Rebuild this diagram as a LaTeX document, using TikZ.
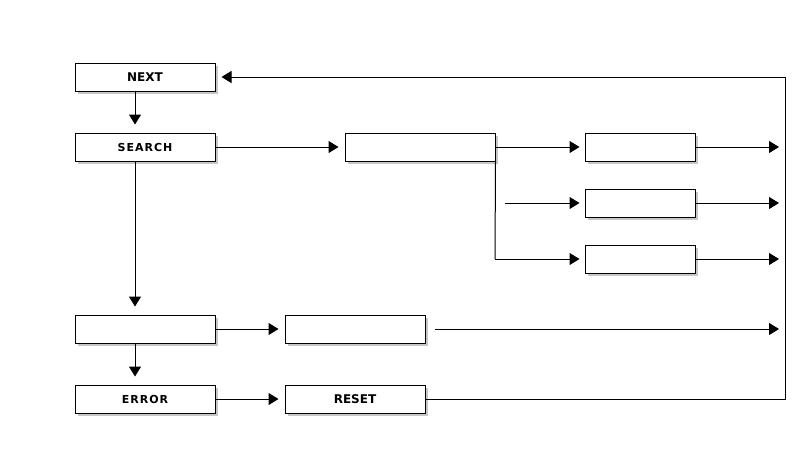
\documentclass[tikz,border=0pt]{standalone}
\usepackage{fontspec}
\setmainfont{DejaVu Sans}
\usetikzlibrary{arrows.meta,shadows}
\begin{document}
\begin{tikzpicture}[x=1pt,y=-1pt,
  box/.style={draw=black, line width=1pt, fill=white, minimum height=28pt, inner sep=0pt,
    drop shadow={shadow xshift=2.5pt, shadow yshift=-2.5pt, fill=black, opacity=0.22}},
  wbox/.style={box, minimum width=140pt},
  mbox/.style={box, minimum width=150pt},
  sbox/.style={box, minimum width=110pt},
  bigtxt/.style={font=\fontsize{12}{14}\selectfont\bfseries},
  smalltxt/.style={font=\fontsize{11}{13}\selectfont\bfseries\addfontfeature{LetterSpace=9}},
  flow/.style={line width=1pt, -{Triangle[length=10pt,width=12pt]}, shorten >=6pt},
  wire/.style={line width=1pt}]
\useasboundingbox (0,0) rectangle (810,448);

% left column
\node[wbox, bigtxt]   (next)   at (145,77)  {NEXT};
\node[wbox, smalltxt] (search) at (145,147) {SEARCH};
\node[wbox]           (fail)   at (145,329) {};
\node[wbox, smalltxt] (error)  at (145,399) {ERROR};

% middle column
\node[mbox] (split) at (420,147) {};
\node[wbox] (pass)  at (355,329) {};
\node[wbox, bigtxt] (reset) at (355,399) {RESET};

% right column
\node[sbox] (outa) at (640,147) {};
\node[sbox] (outb) at (640,203) {};
\node[sbox] (outc) at (640,259) {};

% loose ends
\coordinate (ea) at (779,147);
\coordinate (eb) at (779,203);
\coordinate (ec) at (779,259);
\coordinate (ed) at (779,329);
\coordinate (sb) at (505,203);
\coordinate (sd) at (435,329);
\coordinate (rr) at (785,399);
\coordinate (rt) at (785,77);
\coordinate (bc) at (495,259);

% main flow (vertical links run left of the box centres)
\draw[flow, shorten >=8pt] ([xshift=-10pt]next.south) -- ([xshift=-10pt]search.north);
\draw[flow, shorten >=8pt] ([xshift=-10pt]search.south) -- ([xshift=-10pt]fail.north);
\draw[flow, shorten >=8pt] ([xshift=-10pt]fail.south) -- ([xshift=-10pt]error.north);
\draw[flow] (search) -- (split);
\draw[flow] (fail) -- (pass);
\draw[flow] (error) -- (reset);

% branches
\draw[flow, shorten >=5pt] (split.east) -- (outa.west);
\draw[flow, shorten >=5pt] (sb) -- (outb.west);
\draw[wire] (split.south east) -- (bc);
\draw[flow, shorten >=5pt] (bc) -- (outc.west);

% outputs
\draw[flow, shorten >=0pt] (outa.east) -- (ea);
\draw[flow, shorten >=0pt] (outb.east) -- (eb);
\draw[flow, shorten >=0pt] (outc.east) -- (ec);
\draw[flow, shorten >=0pt] (sd) -- (ed);

% return loop
\draw[flow] (reset.east) -- (rr) -- (rt) -- (next.east);
\end{tikzpicture}
\end{document}
